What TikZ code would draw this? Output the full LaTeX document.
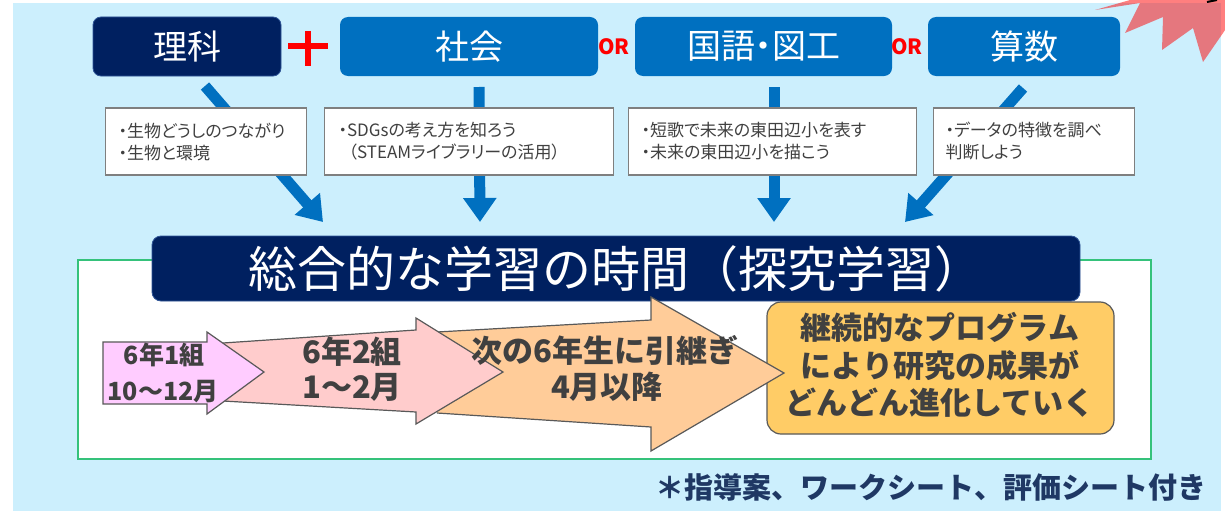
\documentclass[tikz,border=0pt]{standalone}
\usepackage{fontspec}
\setmainfont{Noto Sans CJK JP}
\newfontfamily\jpp[RawFeature=+palt]{Noto Sans CJK JP}
\usetikzlibrary{arrows.meta}
\definecolor{bgblue}{HTML}{CCEFFD}
\definecolor{navy}{HTML}{002060}
\definecolor{navyedge}{HTML}{2F5597}
\definecolor{midblue}{HTML}{0070C0}
\definecolor{orred}{HTML}{FF0000}
\definecolor{greenedge}{HTML}{35C27B}
\definecolor{notegray}{HTML}{7F7F7F}
\definecolor{darktext}{HTML}{404040}
\definecolor{edgegray}{HTML}{595959}
\definecolor{pinkA}{HTML}{FFCCFF}
\definecolor{pinkB}{HTML}{FFCCCC}
\definecolor{orangeC}{HTML}{FFCC99}
\definecolor{goldD}{HTML}{FFCC66}
\definecolor{footnavy}{HTML}{1F3864}
\tikzset{
  topbox/.style={rounded corners=8pt, minimum height=59pt, inner sep=0pt, text=white,
    font=\jpp\fontsize{34}{40}\selectfont},
  navybox/.style={topbox, fill=navy, draw=navyedge, line width=0.8pt},
  bluebox/.style={topbox, fill=midblue},
  ortext/.style={text=orred, font=\bfseries\fontsize{21}{24}\selectfont, inner sep=0pt},
  notebox/.style={draw=notegray, line width=1.2pt, fill=white, minimum height=67pt,
    align=left, text=darktext, font=\jpp\fontsize{17}{22}\selectfont, anchor=west,
    inner ysep=0pt},
  flowarrow/.style={draw=midblue, line width=11pt, -{Triangle[width=32pt,length=24pt]}},
  blockarrow/.style={draw=edgegray, line width=1.2pt},
  steptext/.style={text=darktext, inner sep=0pt},
}
\begin{document}
\begin{tikzpicture}[x=1pt,y=-1pt]
\useasboundingbox (0,0) rectangle (1225,511);
% background panel
\fill[bgblue] (13,3) rectangle (1221,511);
% starburst (semi-transparent red)
\fill[red, opacity=0.5] (1095,10) -- (1130,0) -- (1225,0) -- (1225,30) -- (1223,33)
  -- (1203,62) -- (1193,28) -- (1162,50) -- (1163,17) -- (1125,33) -- (1140,3) -- cycle;
\draw[black, line width=2pt] (1207,2) -- (1217,0);

% top subject boxes
\node[navybox, minimum width=188pt] (rika) at (187,46.5) {理科};
\node[bluebox, minimum width=258pt] (shakai) at (469,46.5) {社会};
\node[bluebox, minimum width=257pt] (kokugo) at (763.5,46.5) {国語・図工};
\node[bluebox, minimum width=192pt] (sansu) at (1024,46.5) {算数};
\draw[orred, line width=6pt] (288,46) -- (328,46);
\draw[orred, line width=6pt] (308,31) -- (308,66);
\node[ortext] (or1) at (614,47) {OR};
\node[ortext] (or2) at (907,47) {OR};

% blue flow arrows
\coordinate (a1s) at (205,86);  \coordinate (a1e) at (323,222);
\coordinate (a2s) at (479,87);  \coordinate (a2e) at (480,222);
\coordinate (a3s) at (774,87);  \coordinate (a3e) at (774,222);
\coordinate (a4s) at (1023,88); \coordinate (a4e) at (905,222);
\draw[flowarrow] (a1s) -- (a1e);
\draw[flowarrow] (a2s) -- (a2e);
\draw[flowarrow] (a3s) -- (a3e);
\draw[flowarrow] (a4s) -- (a4e);

% note boxes
\node[notebox, text width=175pt, inner xsep=13pt] (note1) at (105,141.5)
  {・生物どうしのつながり\\・生物と環境};
\node[notebox, text width=261pt, inner xsep=14pt] (note2) at (324,141.5)
  {・SDGsの考え方を知ろう\\\hspace*{10pt}（STEAMライブラリーの活用）};
\node[notebox, text width=262pt, inner xsep=13pt] (note3) at (628,141.5)
  {・短歌で未来の東田辺小を表す\\・未来の東田辺小を描こう};
\node[notebox, text width=177pt, inner xsep=12pt] (note4) at (933,141.5)
  {・データの特徴を調べ\\判断しよう};

% green frame
\node[draw=greenedge, line width=2pt, fill=white, minimum width=1073pt,
  minimum height=199pt, inner sep=0pt] (frame) at (614.5,359.5) {};

% title box
\node[fill=navy, draw=navyedge, line width=0.8pt, rounded corners=9pt,
  minimum width=928pt, minimum height=65pt, inner sep=0pt, text=white,
  font=\fontsize{49}{56}\selectfont] (title) at (616,268.5) {総合的な学習の時間（探究学習）};

% result box
\node[fill=goldD, draw=edgegray, line width=1.2pt, rounded corners=14pt,
  minimum width=347pt, minimum height=132pt, inner sep=0pt] (result) at (940.5,368) {};
\node[steptext, align=center, font=\bfseries\fontsize{31}{37.5}\selectfont] (resulttext)
  at (940,365) {継続的なプログラム\\により研究の成果が\\どんどん進化していく};

% block arrows
\fill[orangeC] (437,332) -- (651,320) -- (651,297) -- (784,373) -- (651,451) -- (651,427) -- (437,413) -- cycle;
\draw[blockarrow] (437,332) -- (651,320) -- (651,297) -- (784,373) -- (651,451) -- (651,427) -- (437,413);
\draw[blockarrow, fill=pinkB] (223,343) -- (416,330) -- (416,318) -- (503,372) -- (416,424) -- (416,412) -- (223,401) -- cycle;
\draw[blockarrow, fill=pinkA] (103,342) -- (207,342) -- (207,332) -- (264,372) -- (207,414) -- (207,404) -- (103,404) -- cycle;

\node[steptext, font=\bfseries\fontsize{25}{30}\selectfont] (s1a) at (164,355) {6年1組};
\node[steptext, font=\bfseries\fontsize{25}{30}\selectfont] (s1b) at (163,392) {10～12月};
\node[steptext, font=\bfseries\fontsize{31}{36}\selectfont] (s2a) at (352,352) {6年2組};
\node[steptext, font=\bfseries\fontsize{31}{36}\selectfont] (s2b) at (352,387) {1～2月};
\node[steptext, font=\bfseries\fontsize{31}{36}\selectfont] (s3a) at (605,350) {次の6年生に引継ぎ};
\node[steptext, font=\bfseries\fontsize{31}{36}\selectfont] (s3b) at (607,387) {4月以降};

% footer
\node[text=footnavy, inner sep=0pt, font=\bfseries\fontsize{29}{34}\selectfont] (footer)
  at (931,487) {＊指導案、ワークシート、評価シート付き};
\end{tikzpicture}
\end{document}
